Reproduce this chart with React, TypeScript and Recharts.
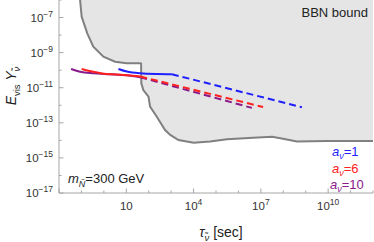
import { Area, ComposedChart, Line, XAxis, YAxis } from "recharts";

const FONT = "'Liberation Sans', Arial, sans-serif";
const FRAME = "#a6a6a6";
const TEXT = "#333";
const BLUE = "#1f1fff";
const RED = "#ff2020";
const PURPLE = "#8a1a8a";

// layout of the plot frame (px)
const PLOT_LEFT = 59;
const PLOT_RIGHT = 373;
const PLOT_TOP = 0;
const PLOT_BOTTOM = 193;

// log10 axes
const X_TICKS = [-2, -1, 0, 1, 2, 3, 4, 5, 6, 7, 8, 9, 10, 11, 12];
const X_LABELED = [1, 4, 7, 10];
const Y_TICKS = [-17, -16, -15, -14, -13, -12, -11, -10, -9, -8, -7, -6];
const Y_LABELED = [-17, -15, -13, -11, -9, -7];

// BBN excluded region boundary (log10 tau, log10 E*Y)
const bbnTau = [-1.06, -0.99, -0.74, -0.47, -0.02, 0.5, 1.02, 1.62, 1.66, 1.67, 1.76, 1.99, 2.06, 2.36, 2.73, 2.96, 3.33, 4.0, 4.74, 5.49, 6.66, 7.5, 7.87, 8.61, 9.95, 12];
const bbnE = [-6, -6.95, -7.9, -8.66, -9.23, -9.52, -9.61, -9.61, -9.62, -10.75, -11.13, -11.51, -12.08, -12.65, -13.41, -13.69, -13.98, -14.13, -14.07, -13.94, -13.85, -13.79, -13.88, -14.07, -14.03, -14.03];

// a_nu = 1
const blueSolidTau = [0.65, 1.03, 1.62, 2.37, 3.03];
const blueSolidE = [-9.93, -10.08, -10.18, -10.22, -10.23];
const blueDashTau = [3.03, 8.83];
const blueDashE = [-10.23, -12.11];

// a_nu = 6
const redSolidTau = [-0.99, -0.47, 0.13, 0.87, 1.47, 1.62];
const redSolidE = [-9.93, -10.09, -10.22, -10.27, -10.33, -10.36];
const redDashTau = [1.62, 7.1];
const redDashE = [-10.36, -12.1];

// a_nu = 10
const purpleSolidTau = [-1.46, -1.06, -0.47, 0.28, 1.02, 1.62];
const purpleSolidE = [-9.93, -10.09, -10.18, -10.23, -10.29, -10.4];
const purpleDashTau = [1.62, 6.6];
const purpleDashE = [-10.4, -12.15];

const zip = (xs: number[], ys: number[]) => xs.map((x, i) => ({ x, y: ys[i] }));

const sup = (n: number) => (n < 0 ? "\u2212" + Math.abs(n) : String(n));

function BottomTick({ x, payload }: any) {
  const v = payload.value;
  const major = (v + 2) % 3 === 0;
  return (
    <g>
      <line x1={x} x2={x} y1={PLOT_BOTTOM} y2={PLOT_BOTTOM - (major ? 4.5 : 2.5)} stroke={FRAME} />
      {X_LABELED.includes(v) && (
        <text x={x} y={PLOT_BOTTOM + 17} textAnchor="middle" fontSize={11.5} fill={TEXT} fontFamily={FONT}>
          <tspan>10</tspan>
          {v !== 1 && (
            <tspan dy={-5} fontSize={8.5}>
              {sup(v)}
            </tspan>
          )}
        </text>
      )}
    </g>
  );
}

function TopTick({ x, payload }: any) {
  const major = (payload.value + 2) % 3 === 0;
  return <line x1={x} x2={x} y1={PLOT_TOP} y2={PLOT_TOP + (major ? 4.5 : 2.5)} stroke={FRAME} />;
}

function LeftTick({ y, payload }: any) {
  const v = payload.value;
  const major = Y_LABELED.includes(v);
  return (
    <g>
      <line x1={PLOT_LEFT} x2={PLOT_LEFT + (major ? 4.5 : 2.5)} y1={y} y2={y} stroke={FRAME} />
      {major && (
        <text x={PLOT_LEFT - 6} y={y + 4} textAnchor="end" fontSize={11.5} fill={TEXT} fontFamily={FONT}>
          <tspan>10</tspan>
          <tspan dy={-5} fontSize={8.5}>
            {sup(v)}
          </tspan>
        </text>
      )}
    </g>
  );
}

function RightTick({ y, payload }: any) {
  const major = Y_LABELED.includes(payload.value);
  return <line x1={PLOT_RIGHT} x2={PLOT_RIGHT - (major ? 4.5 : 2.5)} y1={y} y2={y} stroke={FRAME} />;
}

export default function App() {
  const nuT = "\u03BD\u0303";
  return (
    <div style={{ position: "absolute", left: 0, top: 0, width: 374, height: 242, background: "#fff" }}>
      <ComposedChart width={374} height={242} margin={{ top: 0, right: 1, bottom: 0, left: 0 }}>
        <XAxis
          xAxisId={0}
          dataKey="x"
          type="number"
          domain={[-2, 12]}
          ticks={X_TICKS}
          interval={0}
          height={49}
          tickLine={false}
          axisLine={{ stroke: FRAME }}
          tick={<BottomTick />}
          allowDataOverflow
        />
        <XAxis
          xAxisId="top"
          orientation="top"
          dataKey="x"
          type="number"
          domain={[-2, 12]}
          ticks={X_TICKS}
          interval={0}
          height={0}
          tickLine={false}
          axisLine={{ stroke: FRAME }}
          tick={<TopTick />}
          allowDataOverflow
        />
        <YAxis
          yAxisId={0}
          type="number"
          domain={[-17, -6]}
          ticks={Y_TICKS}
          interval={0}
          width={59}
          tickLine={false}
          axisLine={{ stroke: FRAME }}
          tick={<LeftTick />}
          allowDataOverflow
        />
        <YAxis
          yAxisId="right"
          orientation="right"
          type="number"
          domain={[-17, -6]}
          ticks={Y_TICKS}
          interval={0}
          width={0}
          tickLine={false}
          axisLine={{ stroke: FRAME }}
          tick={<RightTick />}
          allowDataOverflow
        />
        <Area
          data={zip(bbnTau, bbnE)}
          dataKey="y"
          type="linear"
          baseValue={-6}
          stroke="#808080"
          strokeWidth={2}
          fill="#e5e5e5"
          fillOpacity={1}
          isAnimationActive={false}
        />
        <Line data={zip(purpleSolidTau, purpleSolidE)} dataKey="y" type="monotone" stroke={PURPLE} strokeWidth={2} dot={false} isAnimationActive={false} />
        <Line data={zip(purpleDashTau, purpleDashE)} dataKey="y" type="linear" stroke={PURPLE} strokeWidth={2} strokeDasharray="7 4" dot={false} isAnimationActive={false} />
        <Line data={zip(redSolidTau, redSolidE)} dataKey="y" type="monotone" stroke={RED} strokeWidth={2} dot={false} isAnimationActive={false} />
        <Line data={zip(redDashTau, redDashE)} dataKey="y" type="linear" stroke={RED} strokeWidth={2} strokeDasharray="7 4" dot={false} isAnimationActive={false} />
        <Line data={zip(blueSolidTau, blueSolidE)} dataKey="y" type="monotone" stroke={BLUE} strokeWidth={2} dot={false} isAnimationActive={false} />
        <Line data={zip(blueDashTau, blueDashE)} dataKey="y" type="linear" stroke={BLUE} strokeWidth={2} strokeDasharray="7 4" dot={false} isAnimationActive={false} />
      </ComposedChart>
      <svg
        width={374}
        height={242}
        style={{ position: "absolute", left: 0, top: 0, pointerEvents: "none" }}
        fontFamily={FONT}
      >
        <text x={368} y={17} textAnchor="end" fontSize={13} fill="#222">
          BBN bound
        </text>
        <text x={68} y={183} fontSize={13} fill="#222">
          <tspan fontStyle="italic">m</tspan>
          <tspan dy={4} fontSize={9} fontStyle="italic">
            {"N\u0303"}
          </tspan>
          <tspan dy={-4}>=300 GeV</tspan>
        </text>
        <text x={332} y={156} fontSize={13} fill={BLUE}>
          <tspan fontStyle="italic">a</tspan>
          <tspan dy={3} fontSize={9} fontStyle="italic">ν</tspan>
          <tspan dy={-3}>=1</tspan>
        </text>
        <text x={332} y={172.5} fontSize={13} fill={RED}>
          <tspan fontStyle="italic">a</tspan>
          <tspan dy={3} fontSize={9} fontStyle="italic">ν</tspan>
          <tspan dy={-3}>=6</tspan>
        </text>
        <text x={330} y={189} fontSize={13} fill={PURPLE}>
          <tspan fontStyle="italic">a</tspan>
          <tspan dy={3} fontSize={9} fontStyle="italic">ν</tspan>
          <tspan dy={-3}>=10</tspan>
        </text>
        <text x={221} y={237} textAnchor="middle" fontSize={14} fill="#222">
          <tspan fontStyle="italic">τ</tspan>
          <tspan dy={4} fontSize={9.5} fontStyle="italic">
            {nuT}
          </tspan>
          <tspan dy={-4}> [sec]</tspan>
        </text>
        <text transform="translate(16,86) rotate(-90)" textAnchor="middle" fontSize={14} fill="#222">
          <tspan fontStyle="italic">E</tspan>
          <tspan dy={4} fontSize={9.5}>vis</tspan>
          <tspan dy={-4} fontStyle="italic"> Y</tspan>
          <tspan dy={4} fontSize={9.5} fontStyle="italic">
            {nuT}
          </tspan>
        </text>
      </svg>
    </div>
  );
}
